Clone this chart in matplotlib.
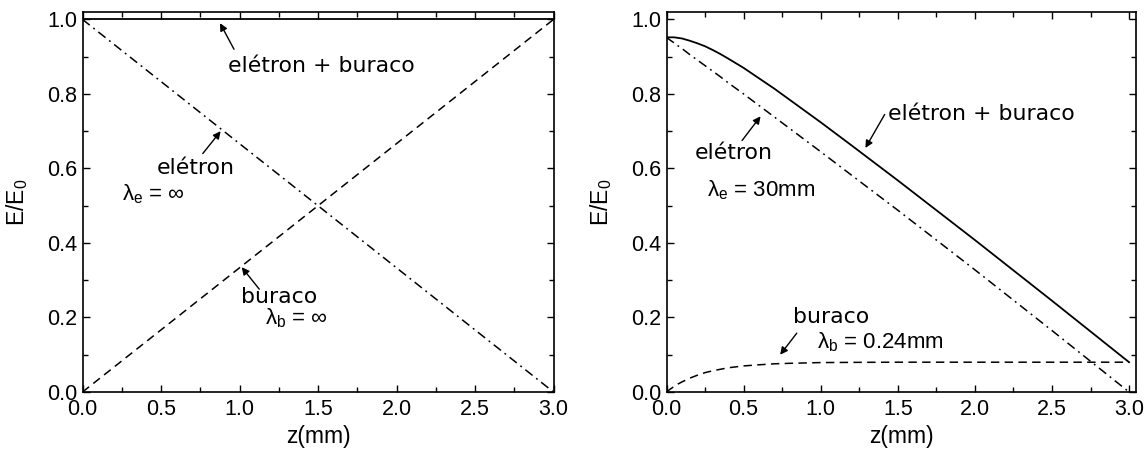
import matplotlib
matplotlib.use("Agg")
import matplotlib.pyplot as plt
from matplotlib.ticker import MultipleLocator

plt.rcParams['font.family'] = ['Liberation Sans', 'DejaVu Sans']
plt.rcParams['mathtext.fontset'] = 'custom'
plt.rcParams['mathtext.rm'] = 'Liberation Sans'
plt.rcParams['mathtext.it'] = 'Liberation Sans:italic'

# ---- data: left panel (lambda = infinity) ----
z_left = [0.0, 3.0]
electron_left = [1.0, 0.0]
hole_left = [0.0, 1.0]
sum_left = [1.0, 1.0]

# ---- data: right panel (lambda_e = 30mm, lambda_b = 0.24mm) ----
z_right = [0.0, 0.025, 0.05, 0.075, 0.1, 0.15, 0.2, 0.25, 0.3, 0.35, 0.4, 0.5, 0.6,
           0.7, 0.8, 1.0, 1.2, 1.5, 2.0, 2.5, 3.0]
electron_right = [0.952, 0.944, 0.937, 0.929, 0.922, 0.906, 0.891, 0.876, 0.861, 0.846,
                  0.830, 0.800, 0.769, 0.738, 0.707, 0.645, 0.582, 0.488, 0.328, 0.165, 0.0]
hole_right = [0.0, 0.008, 0.015, 0.0215, 0.027, 0.037, 0.045, 0.052, 0.057, 0.061,
              0.065, 0.070, 0.073, 0.0757, 0.077, 0.079, 0.0795, 0.080, 0.080, 0.080, 0.080]
sum_right = [0.952, 0.952, 0.952, 0.9505, 0.949, 0.943, 0.936, 0.928, 0.918, 0.907,
             0.895, 0.870, 0.842, 0.814, 0.784, 0.724, 0.662, 0.568, 0.408, 0.245, 0.080]

xticks = [0.0, 0.5, 1.0, 1.5, 2.0, 2.5, 3.0]
yticks = [0.0, 0.2, 0.4, 0.6, 0.8, 1.0]

W, H = 1148, 459
fig = plt.figure(figsize=(W / 100, H / 100), dpi=100)
ax1 = fig.add_axes([82.5 / W, (H - 392) / H, 471 / W, 380 / H])
ax2 = fig.add_axes([666.5 / W, (H - 392) / H, 469.5 / W, 380 / H])

DASH = (0, (5.5, 3.5))
DASHDOT = (0, (6, 3, 1.2, 3))
ann_font = dict(family='DejaVu Sans', fontsize=15.8)
lam_font = dict(family=['Liberation Sans', 'DejaVu Sans'], fontsize=16)
arrowprops = dict(arrowstyle='-|>', color='black', lw=1.0, mutation_scale=11,
                  shrinkA=0, shrinkB=0)


def style_axes(ax, xmax, ylab_x):
    ax.set_xlim(0, xmax)
    ax.set_ylim(0, 1.02)
    ax.set_xticks(xticks)
    ax.set_yticks(yticks)
    ax.set_xticklabels([f"{v:.1f}" for v in xticks])
    ax.set_yticklabels([f"{v:.1f}" for v in yticks])
    ax.xaxis.set_minor_locator(MultipleLocator(0.25))
    ax.yaxis.set_minor_locator(MultipleLocator(0.1))
    ax.tick_params(which='both', direction='in', top=True, right=True,
                   width=1.0, labelsize=15.5)
    ax.tick_params(axis='x', which='major', pad=5)
    ax.tick_params(axis='y', which='major', pad=4)
    ax.tick_params(which='major', length=5)
    ax.tick_params(which='minor', length=3.5)
    for s in ax.spines.values():
        s.set_linewidth(1.2)
    ax.set_xlabel('z(mm)', fontsize=16.5)
    ax.xaxis.set_label_coords(0.5, -(437 - 392) / 380, transform=ax.transAxes)
    ax.xaxis.label.set_va('center')
    ax.set_ylabel(r'$\mathregular{E/E_0}$', fontsize=16.5)
    ax.yaxis.set_label_coords(ylab_x, 0.5, transform=ax.transAxes)
    ax.yaxis.label.set_va('center')


# left panel
ax1.plot(z_left, sum_left, color='black', lw=1.3, solid_capstyle='butt', clip_on=False)
ax1.plot(z_left, electron_left, color='black', lw=1.1, linestyle=DASHDOT)
ax1.plot(z_left, hole_left, color='black', lw=1.1, linestyle=DASH)
style_axes(ax1, 3.0, (17 - 82.5) / 471)

ax1.annotate('', xy=(0.876, 0.99), xytext=(0.965, 0.92), arrowprops=arrowprops)
ax1.text(0.927, 0.874, 'elétron + buraco', va='center', ha='left', **ann_font)
ax1.annotate('', xy=(0.88, 0.70), xytext=(0.766, 0.64), arrowprops=arrowprops)
ax1.text(0.47, 0.60, 'elétron', va='center', ha='left', **ann_font)
ax1.text(0.25, 0.53, r'$\mathrm{\lambda_e}$ = ∞', va='center', ha='left', **lam_font)
ax1.annotate('', xy=(1.014, 0.335), xytext=(1.126, 0.276), arrowprops=arrowprops)
ax1.text(1.008, 0.256, 'buraco', va='center', ha='left', **ann_font)
ax1.text(1.162, 0.197, r'$\mathrm{\lambda_b}$ = ∞', va='center', ha='left', **lam_font)

# right panel
ax2.plot(z_right, sum_right, color='black', lw=1.3)
ax2.plot(z_right, electron_right, color='black', lw=1.1, linestyle=DASHDOT)
ax2.plot(z_right, hole_right, color='black', lw=1.1, linestyle=DASH)
style_axes(ax2, 3.045, (601 - 666.5) / 469.5)

ax2.annotate('', xy=(1.29, 0.655), xytext=(1.415, 0.745), arrowprops=arrowprops)
ax2.text(1.438, 0.745, 'elétron + buraco', va='center', ha='left', **ann_font)
ax2.annotate('', xy=(0.61, 0.74), xytext=(0.49, 0.675), arrowprops=arrowprops)
ax2.text(0.185, 0.642, 'elétron', va='center', ha='left', **ann_font)
ax2.text(0.26, 0.543, r'$\mathrm{\lambda_e}$ = 30mm', va='center', ha='left', **lam_font)
ax2.annotate('', xy=(0.737, 0.10), xytext=(0.845, 0.158), arrowprops=arrowprops)
ax2.text(0.82, 0.20, 'buraco', va='center', ha='left', **ann_font)
ax2.text(0.975, 0.135, r'$\mathrm{\lambda_b}$ = 0.24mm', va='center', ha='left', **lam_font)

fig.savefig('out.png', dpi=100)
